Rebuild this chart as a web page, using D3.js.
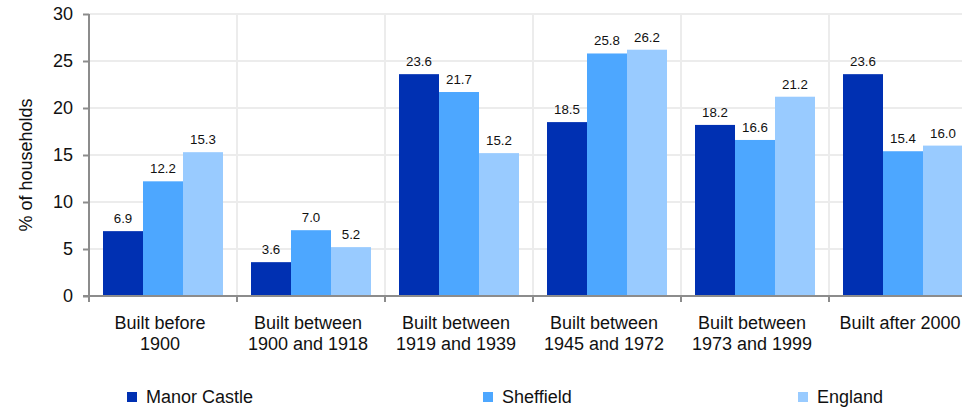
<!DOCTYPE html>
<html>
<head>
<meta charset="utf-8">
<script src="https://cdn.jsdelivr.net/npm/d3@7"></script>
<style>
  html, body { margin: 0; padding: 0; background: #fff; }
  svg { display: block; font-family: "Liberation Sans", Arial, sans-serif; }
</style>
</head>
<body>
<svg id="chart" width="962" height="407"></svg>
<script>
// Dwelling age profile: share of households by period of construction
const categories = [
  ["Built before", "1900"],
  ["Built between", "1900 and 1918"],
  ["Built between", "1919 and 1939"],
  ["Built between", "1945 and 1972"],
  ["Built between", "1973 and 1999"],
  ["Built after 2000"]
];
const seriesNames = ["Manor Castle", "Sheffield", "England"];
const manorCastle = [6.9, 3.6, 23.6, 18.5, 18.2, 23.6];
const sheffield   = [12.2, 7.0, 21.7, 25.8, 16.6, 15.4];
const england     = [15.3, 5.2, 15.2, 26.2, 21.2, 16.0];
const yTicks = [0, 5, 10, 15, 20, 25, 30];
const colors = ["#0030b2", "#4da7ff", "#99cbff"];

const seriesValues = [manorCastle, sheffield, england];
const svg = d3.select("#chart");
const FS = 18;

const left = 89, bandW = 148;
const x = d3.scaleBand()
  .domain(d3.range(categories.length))
  .range([left, left + bandW * categories.length])
  .paddingInner(0).paddingOuter(0);
const xInner = d3.scaleBand()
  .domain(d3.range(seriesNames.length))
  .range([0, x.bandwidth()])
  .paddingOuter(14 / 40).paddingInner(0);
const y = d3.scaleLinear().domain([0, 30]).range([296, 14]);

const grid = svg.append("g");
// horizontal gridlines
grid.selectAll("line.h").data(yTicks.filter(t => t > 0)).join("line")
  .attr("x1", left).attr("x2", 962)
  .attr("y1", d => y(d)).attr("y2", d => y(d))
  .attr("stroke", "#ececec").attr("stroke-width", 2);
// vertical gridlines at category boundaries
grid.selectAll("line.v").data(d3.range(1, categories.length)).join("line")
  .attr("x1", d => x(d)).attr("x2", d => x(d))
  .attr("y1", y(30)).attr("y2", y(0))
  .attr("stroke", "#ececec").attr("stroke-width", 2);

// bars
const groups = svg.append("g").selectAll("g").data(categories).join("g")
  .attr("transform", (d, i) => `translate(${x(i)},0)`);
groups.each(function(_, ci) {
  const g = d3.select(this);
  seriesValues.forEach((vals, si) => {
    const v = vals[ci];
    g.append("rect")
      .attr("x", xInner(si)).attr("width", xInner.bandwidth())
      .attr("y", y(v)).attr("height", y(0) - y(v))
      .attr("fill", colors[si]);
    g.append("text")
      .attr("x", xInner(si) + xInner.bandwidth() / 2)
      .attr("y", y(v) - 8)
      .attr("text-anchor", "middle")
      .attr("font-size", 13.3).attr("fill", "#111")
      .text(v.toFixed(1));
  });
});

// y axis
const yAxis = svg.append("g").attr("transform", `translate(${left},0)`)
  .call(d3.axisLeft(y).tickValues(yTicks).tickSize(6).tickPadding(10).tickFormat(d3.format("d")));
yAxis.select(".domain").attr("stroke", "#8c8c8c").attr("stroke-width", 2)
  .attr("d", `M0,${y(30)}V${y(0)}`);
yAxis.selectAll(".tick line").attr("stroke", "#8c8c8c").attr("stroke-width", 2);
yAxis.selectAll(".tick text").attr("font-size", FS).attr("fill", "#111")
  .attr("font-family", "Liberation Sans, Arial, sans-serif");

// x axis
const xAxis = svg.append("g").attr("transform", `translate(0,${y(0)})`);
xAxis.append("line").attr("x1", left - 6).attr("x2", 962)
  .attr("stroke", "#8c8c8c").attr("stroke-width", 2);
xAxis.selectAll("line.tk").data(d3.range(0, categories.length)).join("line")
  .attr("x1", d => x(d)).attr("x2", d => x(d))
  .attr("y1", 0).attr("y2", 6)
  .attr("stroke", "#8c8c8c").attr("stroke-width", 2);
xAxis.selectAll("text").data(categories).join("text")
  .attr("text-anchor", "middle")
  .attr("font-size", FS).attr("fill", "#111")
  .attr("transform", (d, i) => `translate(${x(i) + x.bandwidth() / 2 - 3},0)`)
  .each(function(lines) {
    d3.select(this).selectAll("tspan").data(lines).join("tspan")
      .attr("x", 0).attr("y", (d, k) => 33 + k * 21).text(d => d);
  });

// y axis title
svg.append("text")
  .attr("transform", `translate(32,165) rotate(-90)`)
  .attr("text-anchor", "middle")
  .attr("font-size", FS).attr("fill", "#111")
  .text("% of households");

// legend
const legendX = [127, 483, 798];
const legend = svg.append("g").selectAll("g").data(seriesNames).join("g")
  .attr("transform", (d, i) => `translate(${legendX[i]},392)`);
legend.append("rect").attr("width", 10).attr("height", 10)
  .attr("fill", (d, i) => colors[i]);
legend.append("text").attr("x", 19).attr("y", 10.5)
  .attr("font-size", FS).attr("fill", "#111")
  .text(d => d);
</script>
</body>
</html>
